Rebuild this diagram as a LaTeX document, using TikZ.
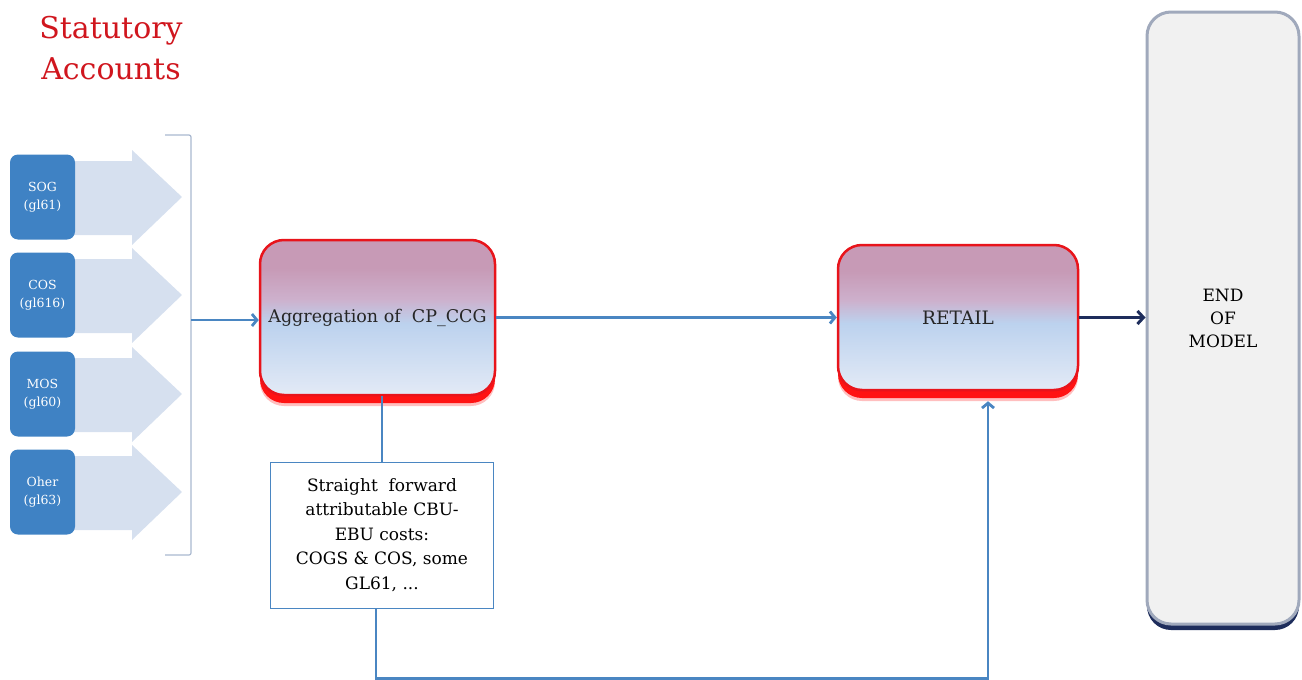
\documentclass[tikz,border=0pt]{standalone}
\usepackage{fontspec}
\setmainfont{DejaVu Serif}
\usetikzlibrary{arrows.meta,shadows}

\definecolor{srcblue}{HTML}{3F82C4}
\definecolor{flowpale}{HTML}{D6E0EF}
\definecolor{linkblue}{HTML}{4A86C2}
\definecolor{navy}{HTML}{1E2D5C}
\definecolor{brk}{HTML}{A9B8CF}
\definecolor{boxred}{HTML}{E8141B}
\definecolor{pinktop}{HTML}{C79AB6}
\definecolor{pinklow}{HTML}{CDB0CC}
\definecolor{bluemid}{HTML}{BCD2EE}
\definecolor{bluebot}{HTML}{E3EAF6}
\definecolor{endfill}{HTML}{F1F1F1}
\definecolor{endedge}{HTML}{A0A9BC}
\definecolor{titlered}{HTML}{D0161E}

% pink cap fading into light blue (TikZ maps the box onto 25bp..75bp)
\pgfdeclareverticalshading{procshade}{100bp}{
  color(0bp)=(bluebot); color(25bp)=(bluebot); color(48bp)=(bluemid);
  color(56bp)=(pinklow); color(66bp)=(pinktop); color(100bp)=(pinktop)}

\tikzset{
  srcbox/.style={fill=srcblue, rounded corners=8pt, minimum width=65pt, minimum height=85pt,
    text=white, align=center, inner sep=0pt, font=\fontsize{12.5}{18}\selectfont},
  procbox/.style={draw=boxred, line width=2.5pt, rounded corners=24pt, shading=procshade,
    drop shadow={shadow xshift=0pt, shadow yshift=-11pt, fill=red, opacity=0.25},
    drop shadow={shadow xshift=0pt, shadow yshift=-8pt, fill=red, opacity=0.9},
    text=black!85, align=center, font=\fontsize{17.5}{21}\selectfont},
  notebox/.style={draw=linkblue, line width=0.8pt, fill=white, minimum width=223pt,
    minimum height=146pt, align=center, font=\fontsize{17}{24.5}\selectfont},
  endbox/.style={draw=endedge, line width=3pt, fill=endfill, rounded corners=24pt,
    minimum width=152pt, minimum height=612pt,
    drop shadow={shadow xshift=0pt, shadow yshift=-6pt, fill=navy, opacity=1},
    align=center, font=\fontsize{17}{23}\selectfont},
  link/.style={draw=linkblue, line width=2.8pt, -{Straight Barb[length=5pt,width=12pt]}},
  plain/.style={draw=linkblue, line width=2.8pt},
  finish/.style={draw=navy, line width=3pt, -{Straight Barb[length=6pt,width=13pt]}}
}

\begin{document}
\begin{tikzpicture}[x=1pt,y=-1pt]
\useasboundingbox (0,0) rectangle (1302,680);

% heading
\node[text=titlered, align=center, font=\fontsize{30}{41}\selectfont] (title) at (111,48)
  {Statutory\\Accounts};

% source accounts with their pale flow arrows
\foreach \name/\lbl/\yc in {sog/{SOG\\(gl61)}/197, cos/{COS\\(gl616)}/295,
                            mos/{MOS\\(gl60)}/394, oth/{Oher\\(gl63)}/492}{
  \fill[flowpale] (70,\yc-36) -- (132,\yc-36) -- (132,\yc-47) -- (182,\yc)
    -- (132,\yc+48) -- (132,\yc+38) -- (70,\yc+38) -- cycle;
  \node[srcbox] (\name) at (42.5,\yc) {\lbl};
}

% bracket gathering the sources
\draw[brk, line width=1.2pt, rounded corners=2pt] (165,135) -- (191,135) -- (191,555) -- (165,555);
\coordinate (gather) at (191,320);

% process boxes
\node[procbox, minimum width=235pt, minimum height=155pt] (agg) at (377.5,317.5)
  {Aggregation of\ \ CP\_CCG};
\node[procbox, minimum width=240pt, minimum height=145pt, font=\fontsize{18.5}{21}\selectfont]
  (retail) at (958,317.5) {RETAIL};
\node[endbox] (end) at (1223,318) {END\\OF\\MODEL};

% attributable costs note
\node[notebox] (note) at (382,535)
  {Straight\ \ forward\\attributable CBU-\\EBU costs:\\COGS \& COS, some\\GL61, ...};

% connectors
\draw[link] (gather) -- (gather -| agg.west);
\draw[link] (agg.east) -- (retail.west);
\draw[finish] (retail.east) -- (retail.east -| end.west);
\draw[plain] (note.north |- agg.south) -- (note.north);
\draw[link] ([xshift=-6pt]note.south) -- ++(0,70) -| ([xshift=30pt,yshift=-10pt]retail.south);
\end{tikzpicture}
\end{document}
